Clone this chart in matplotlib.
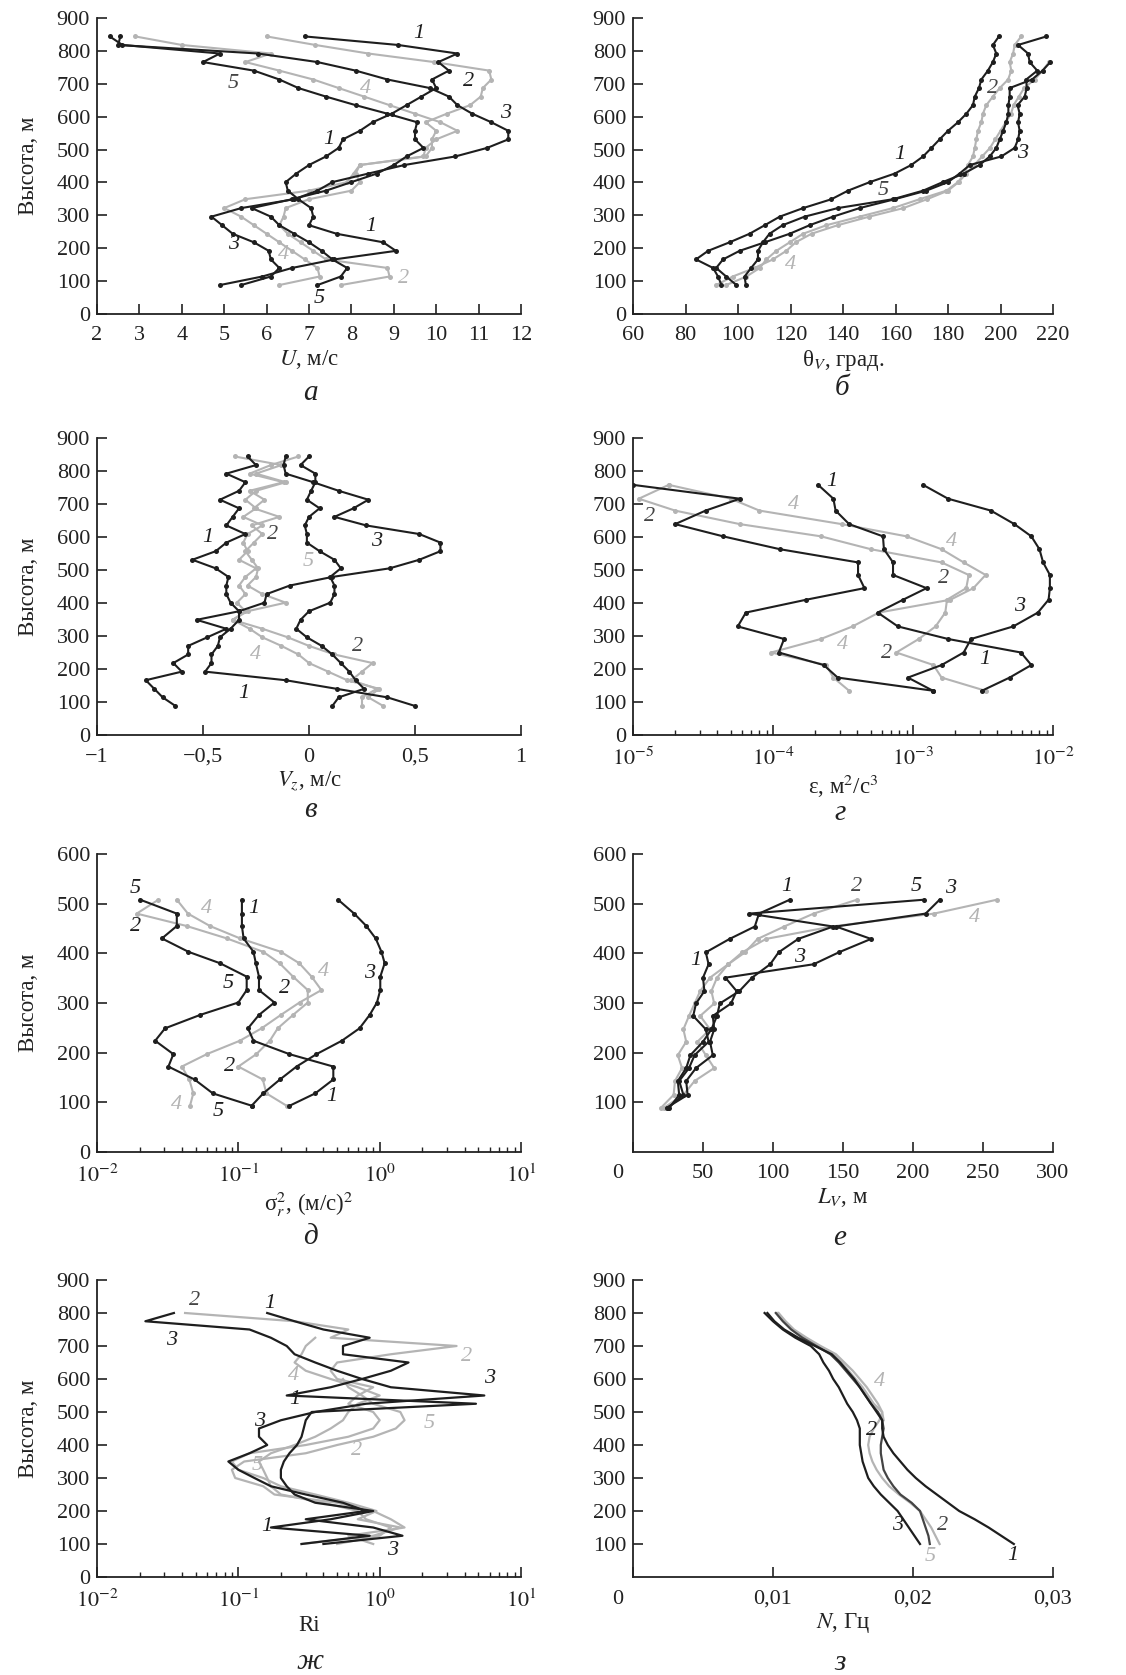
import matplotlib
matplotlib.use('Agg')
import matplotlib.pyplot as plt
import matplotlib.ticker as ticker
import matplotlib.transforms as mtransforms

plt.rcParams['font.family'] = ['Liberation Serif', 'DejaVu Serif']
plt.rcParams['mathtext.fontset'] = 'stix'

BLACK = '#1e1e1e'
GRAY = '#b4b4b4'
DARK = '#444444'

# heights, m
h30 = [88, 114, 140, 166, 192, 218, 244, 270, 296, 322, 349, 375, 401, 427, 453,
       479, 505, 531, 557, 583, 609, 635, 661, 687, 713, 740, 766, 792, 818, 844]
h_g = [134, 174, 212, 250, 291, 329, 371, 410, 445, 485, 523, 563, 602, 639, 680, 716, 758]
h_d = [93, 118, 146, 172, 197, 224, 249, 276, 301, 326, 353, 380, 403, 430, 455, 480, 508]
h_e = [89, 115, 143, 169, 195, 222, 247, 274, 299, 324, 351, 378, 402, 429, 454, 480, 508]
h25 = [100, 125, 150, 175, 200, 225, 250, 275, 300, 325, 350, 375, 400, 425, 450,
       475, 500, 525, 550, 575, 600, 625, 650, 675, 700, 725, 750, 775, 800]

# a: U, m/s
u1 = [4.9, 5.9, 6.6, 7.6, 9.05, 8.75, 7.65, 7.0, 7.1, 7.05, 6.75, 6.5, 6.45, 6.7, 7.0,
      7.4, 7.7, 7.8, 8.2, 8.5, 8.95, 9.3, 9.65, 10.0, 9.9, 10.3, 10.05, 10.5, 9.1, 6.9]
u2 = [7.75, 8.9, 8.85, 7.4, 7.1, 6.8, 6.5, 6.3, 6.4, 6.45, 7.0, 8.0, 8.2, 8.1, 8.2,
      9.75, 9.9, 9.9, 10.0, 9.75, 10.25, 10.8, 11.05, 11.1, 11.3, 11.25, 9.95, 8.4, 7.15, 6.0]
u3 = [5.4, 6.1, 6.3, 6.1, 6.05, 5.7, 5.2, 4.95, 4.7, 5.4, 6.65, 7.2, 7.55, 8.4, 9.25,
      10.45, 11.2, 11.7, 11.7, 11.3, 10.85, 10.5, 10.3, 9.85, 8.85, 8.1, 7.2, 5.8, 2.5, 2.55]
u4 = [6.3, 7.25, 7.2, 6.9, 6.6, 6.3, 6.0, 5.7, 5.4, 5.0, 5.5, 7.0, 7.9, 8.05, 8.2,
      9.7, 9.75, 10.0, 10.5, 10.1, 9.5, 8.9, 8.3, 7.7, 7.1, 6.3, 5.5, 6.1, 4.0, 2.9]
u5 = [7.2, 7.75, 7.9, 7.55, 7.3, 7.0, 6.65, 6.3, 6.1, 5.65, 6.6, 7.4, 8.0, 8.6, 9.0,
      9.3, 9.7, 9.5, 9.5, 9.55, 8.85, 8.1, 7.4, 6.75, 6.3, 5.7, 4.5, 4.9, 2.6, 2.3]

# б: theta_V
t1 = [93.7, 92.4, 90.5, 84.0, 88.6, 96.8, 104.4, 110.2, 115.9, 124.8, 135.6, 141.9, 150.2, 159.7, 166,
      170.5, 173.7, 176.8, 180, 183.8, 187, 189.5, 190.2, 191.8, 192.7, 195.2, 197.1, 198.4, 197.1, 199.4]
t2 = [95.5, 103.2, 108.3, 110.8, 114.6, 119.7, 124.8, 133.7, 146.3, 159, 169.2, 179.4, 183.8, 186.3, 187.6,
      189.5, 190.2, 190.8, 191.4, 192.7, 193.3, 194.6, 197.1, 199.7, 202.9, 204.1, 203.5, 204.8, 205.4, 207.9]
t3 = [99.4, 95.5, 91.7, 94.3, 100.6, 110.2, 119.7, 127.3, 136.2, 146.3, 159.7, 171.7, 180, 184.4, 188.3,
      200.3, 205.4, 206.7, 207.3, 206.7, 207.3, 206.5, 209.2, 210, 209.8, 214, 211.1, 210.5, 206.7, 217.5]
t4 = [91.7, 98, 106.3, 113.3, 118.4, 122, 128, 138, 150, 163, 172, 180, 184, 187, 190,
      193, 196, 198, 200, 202, 204, 205, 207, 209, 213, 216, 218.5]
t5 = [103, 102.5, 105, 107.6, 107.6, 109.5, 112, 117, 125.4, 138, 159, 170.5, 178, 186, 192,
      195.9, 198.4, 199.7, 201, 202.2, 203, 203, 203.5, 203.5, 212, 216, 219]

# в: V_z, m/s
v1 = [0.5, 0.37, 0.13, -0.11, -0.49, -0.46, -0.46, -0.43, -0.42, -0.37, -0.33, -0.33, -0.37, -0.39, -0.39,
      -0.38, -0.44, -0.55, -0.44, -0.39, -0.30, -0.39, -0.36, -0.33, -0.42, -0.33, -0.30, -0.39, -0.25, -0.29]
v2 = [0.25, 0.25, 0.32, 0.2, 0.25, 0.3, 0.12, 0.0, -0.1, -0.22, -0.36, -0.29, -0.11, -0.22, -0.29,
      -0.25, -0.24, -0.27, -0.30, -0.26, -0.22, -0.27, -0.14, -0.26, -0.21, -0.28, -0.12, -0.28, -0.18, -0.05]
v3 = [-0.63, -0.69, -0.73, -0.77, -0.60, -0.64, -0.57, -0.57, -0.48, -0.39, -0.53, -0.33, -0.21, -0.2, -0.09,
      0.11, 0.38, 0.52, 0.62, 0.62, 0.52, 0.27, 0.12, 0.21, 0.28, 0.14, 0.02, -0.11, -0.12, -0.11]
v4 = [0.35, 0.28, 0.33, 0.18, 0.09, 0.0, -0.05, -0.13, -0.22, -0.28, -0.36, -0.30, -0.34, -0.30, -0.33,
      -0.30, -0.25, -0.33, -0.29, -0.31, -0.29, -0.22, -0.31, -0.25, -0.30, -0.25, -0.11, -0.25, -0.13, -0.35]
v5 = [0.11, 0.14, 0.26, 0.22, 0.19, 0.15, 0.11, 0.06, -0.01, -0.06, -0.04, 0.0, 0.10, 0.12, 0.12,
      0.10, 0.15, 0.12, 0.05, -0.01, -0.01, -0.02, 0.0, 0.05, -0.01, 0.01, 0.03, 0.03, -0.04, 0.0]

# г: epsilon, m2/s3
e1 = [3.1e-3, 4.9e-3, 7.0e-3, 5.9e-3, 1.78e-3, 7.8e-4, 5.6e-4, 8.5e-4, 1.25e-3, 7.2e-4, 7.2e-4,
      6.2e-4, 6.1e-4, 3.5e-4, 2.8e-4, 2.7e-4, 2.1e-4]
e2 = [1.4e-3, 2.9e-4, 2.3e-4, 1.1e-4, 1.2e-4, 5.6e-5, 6.4e-5, 1.73e-4, 4.5e-4, 4.05e-4, 4.05e-4,
      1.12e-4, 4.4e-5, 2.0e-5, 3.3e-5, 5.8e-5, 1.0e-5]
e3 = [1.39e-3, 9.2e-4, 1.6e-3, 2.3e-3, 2.6e-3, 5.2e-3, 7.8e-3, 9.3e-3, 9.5e-3, 9.5e-3, 8.5e-3,
      8.0e-3, 7.0e-3, 5.3e-3, 3.6e-3, 1.78e-3, 1.18e-3]
e4 = [3.5e-4, 2.7e-4, 2.4e-4, 9.7e-5, 2.2e-4, 3.7e-4, 5.7e-4, 1.85e-3, 2.7e-3, 3.3e-3, 2.3e-3,
      1.6e-3, 9.0e-4, 3.1e-4, 8.0e-5, 5.0e-5, 1.8e-5]
e5 = [3.3e-3, 1.6e-3, 1.4e-3, 7.6e-4, 1.1e-3, 1.45e-3, 1.7e-3, 1.75e-3, 2.4e-3, 2.5e-3, 1.6e-3,
      5.0e-4, 2.2e-4, 5.8e-5, 2.0e-5, 1.1e-5, 1.8e-5]

# д: sigma_r^2, (m/s)^2
s1 = [0.23, 0.35, 0.47, 0.47, 0.23, 0.128, 0.117, 0.14, 0.18, 0.14, 0.14, 0.133, 0.128, 0.109, 0.106, 0.106, 0.106]
s2 = [0.22, 0.158, 0.149, 0.1, 0.134, 0.167, 0.19, 0.244, 0.31, 0.31, 0.244, 0.196, 0.15, 0.083, 0.0431, 0.0191, 0.0272]
s3 = [0.124, 0.150, 0.197, 0.258, 0.357, 0.54, 0.72, 0.85, 0.957, 1.01, 1.01, 1.085, 1.03, 0.937, 0.805, 0.66, 0.508]
s4 = [0.0455, 0.048, 0.045, 0.0398, 0.0598, 0.1025, 0.146, 0.2, 0.271, 0.387, 0.33, 0.27, 0.2, 0.103, 0.063, 0.044, 0.0367]
s5 = [0.125, 0.066, 0.049, 0.032, 0.0347, 0.0258, 0.0303, 0.0537, 0.1, 0.1146, 0.1146, 0.0743, 0.0444, 0.0288, 0.0367, 0.0367, 0.0202]

# е: L_V, m
l1 = [25, 36, 33, 40, 44, 54, 52, 43, 45, 51, 50, 54, 52, 69, 87, 90, 112]
l2 = [22, 36, 44, 58, 52, 46, 55, 48, 58, 56, 60, 68, 80, 89, 108, 129, 160]
l3 = [24, 39, 38, 45, 57, 55, 58, 57, 70, 74, 66, 129, 147, 170, 145, 209, 219]
l4 = [20, 29, 30, 35, 32, 38, 36, 40, 44, 48, 55, 68, 78, 95, 142, 215, 260]
l5 = [26, 33, 32, 38, 41, 50, 56, 60, 62, 76, 85, 98, 104, 118, 143, 83, 208]

# ж: Ri
r1 = [0.28, 0.85, 0.17, 0.45, 0.9, 0.35, 0.25, 0.22, 0.20, 0.20, 0.21, 0.23, 0.26, 0.28, 0.29,
      0.30, 0.33, 4.8, 0.22, 0.45, 0.75, 1.2, 1.6, 0.55, 0.55, 0.85, 0.4, 0.25, 0.16]
r2 = [0.28, 0.9, 1.4, 0.7, 0.95, 0.6, 0.35, 0.2, 0.15, 0.10, 0.09, 0.12, 0.3, 0.6, 0.9,
      1.0, 0.9, 0.6, 0.7, 0.9, 0.5, 0.45, 0.5, 1.2, 3.5, 0.45, 0.6, 0.25, 0.042]
r3 = [0.4, 1.45, 0.9, 0.3, 0.8, 0.55, 0.3, 0.17, 0.13, 0.10, 0.085, 0.12, 0.16, 0.14, 0.14,
      0.20, 0.35, 0.8, 5.5, 1.2, 0.75, 0.5, 0.35, 0.25, 0.22, 0.17, 0.12, 0.022, 0.035]
r4 = [0.5, 1.0, 1.2, 0.8, 0.7, 0.4, 0.2, 0.17, 0.16, 0.15, 0.14, 0.17, 0.25, 0.35, 0.45,
      0.55, 0.6, 0.7, 1.0, 0.7, 0.45, 0.3, 0.25, 0.28, 0.3, 0.35]
r5 = [0.9, 0.6, 1.5, 1.2, 0.9, 0.5, 0.18, 0.15, 0.095, 0.09, 0.11, 0.3, 0.5, 0.9, 1.3,
      1.5, 1.4, 0.9, 0.75, 0.6, 0.55]

# з: N, Hz
n1 = [0.0272, 0.0263, 0.0254, 0.0244, 0.0233, 0.0225, 0.0217, 0.0209, 0.0202, 0.0196, 0.0191, 0.0186,
      0.0182, 0.0179, 0.0178, 0.0178, 0.0174, 0.0170, 0.0166, 0.0162, 0.0158, 0.0153, 0.0148, 0.0142,
      0.0130, 0.0118, 0.0108, 0.0101, 0.0096]
n2 = [0.0219, 0.0216, 0.0213, 0.0209, 0.0205, 0.0198, 0.0190, 0.0183, 0.0178, 0.0174, 0.0171, 0.0169,
      0.0168, 0.0169, 0.0172, 0.0176, 0.0178, 0.0172, 0.0168, 0.0164, 0.0159, 0.0154, 0.0149, 0.0143,
      0.0133, 0.0122, 0.0114, 0.0108, 0.0103]
n3 = [0.0205, 0.0201, 0.0197, 0.0193, 0.0189, 0.0183, 0.0177, 0.0172, 0.0168, 0.0166, 0.0164, 0.0163,
      0.0162, 0.0162, 0.0162, 0.0160, 0.0157, 0.0153, 0.0150, 0.0147, 0.0143, 0.0140, 0.0136, 0.0133,
      0.0127, 0.0116, 0.0107, 0.0100, 0.0094]
n4 = [0.0179, 0.0178, 0.0175, 0.0171, 0.0167, 0.0162, 0.0157, 0.0151, 0.0145, 0.0134, 0.0124, 0.0115,
      0.0109, 0.0104]
n5 = [0.0212, 0.0211, 0.0209, 0.0207, 0.0205, 0.0199, 0.0191, 0.0186, 0.0182, 0.0179, 0.0178, 0.0177,
      0.0177, 0.0178, 0.0179, 0.0178, 0.0175, 0.0170, 0.0166, 0.0162, 0.0157, 0.0152, 0.0147, 0.0141,
      0.0131, 0.0121, 0.0113, 0.0107, 0.0102]

# curve number labels: (text, x, y, colour)
lab_a = [('1', 9.6, 854, BLACK), ('2', 10.77, 707, BLACK), ('3', 11.63, 611, BLACK), ('4', 8.33, 687, GRAY),
         ('5', 5.22, 702, DARK), ('1', 7.46, 530, BLACK), ('1', 8.45, 266, BLACK), ('3', 5.22, 210, BLACK),
         ('4', 6.4, 180, GRAY), ('2', 9.23, 109, GRAY), ('5', 7.23, 48, BLACK)]
lab_b = [('1', 161.6, 484, BLACK), ('2', 197.1, 687, DARK), ('3', 208.6, 489, BLACK),
         ('5', 155.2, 377, DARK), ('4', 120.0, 152, GRAY)]
lab_v = [('1', -0.476, 597, BLACK), ('2', -0.17, 607, DARK), ('3', 0.32, 586, BLACK), ('5', -0.005, 526, GRAY),
         ('2', 0.23, 268, DARK), ('4', -0.25, 243, GRAY), ('1', -0.31, 126, BLACK)]
lab_g = [('1', 2.61e-4, 769, BLACK), ('4', 1.39e-4, 698, GRAY), ('2', 1.31e-5, 662, DARK),
         ('4', 1.88e-3, 587, GRAY), ('2', 1.64e-3, 475, DARK), ('3', 5.78e-3, 389, BLACK),
         ('4', 3.16e-4, 273, GRAY), ('2', 6.46e-4, 248, DARK), ('1', 3.25e-3, 228, BLACK)]
lab_d = [('5', 0.01866, 531, BLACK), ('4', 0.0597, 491, GRAY), ('1', 0.1277, 491, BLACK),
         ('2', 0.0187, 454, BLACK), ('4', 0.398, 363, GRAY), ('3', 0.85, 360, BLACK),
         ('5', 0.085, 340, BLACK), ('2', 0.213, 330, BLACK), ('2', 0.0873, 172, BLACK),
         ('1', 0.456, 111, BLACK), ('4', 0.0367, 95, GRAY), ('5', 0.0723, 81, BLACK)]
lab_e = [('1', 109.5, 534, BLACK), ('2', 159.5, 534, DARK), ('5', 202, 534, BLACK), ('3', 227, 530, BLACK),
         ('4', 244, 473, GRAY), ('1', 45, 385, BLACK), ('3', 119, 392, BLACK)]
lab_zh = [('2', 0.0494, 839, DARK), ('1', 0.1675, 829, BLACK), ('3', 0.0339, 718, BLACK),
          ('2', 4.09, 667, GRAY), ('4', 0.244, 612, GRAY), ('3', 5.97, 602, BLACK),
          ('1', 0.25, 538, BLACK), ('3', 0.142, 470, BLACK), ('5', 2.25, 465, GRAY),
          ('2', 0.684, 384, GRAY), ('5', 0.135, 339, GRAY), ('1', 0.16, 152, BLACK),
          ('3', 1.24, 81, BLACK)]
lab_z = [('4', 0.01762, 592, GRAY), ('2', 0.01702, 445, BLACK), ('3', 0.01893, 157, BLACK),
         ('2', 0.02214, 157, DARK), ('5', 0.0212, 61, GRAY), ('1', 0.02714, 66, BLACK)]

W, H = 1126, 1675
fig = plt.figure(figsize=(W / 100, H / 100), dpi=100)

FS_TICK = 16
FS_LAB = 16.5


def axes_px(x0, y0, x1, y1):
    return fig.add_axes([x0 / W, 1 - y1 / H, (x1 - x0) / W, (y1 - y0) / H])


def style(ax, ylabel):
    for s in ['top', 'right']:
        ax.spines[s].set_visible(False)
    for s in ['left', 'bottom']:
        ax.spines[s].set_linewidth(1.3)
        ax.spines[s].set_color('#222222')
    ax.tick_params(which='major', direction='in', length=7, width=1.2, labelsize=FS_TICK,
                   colors='#222222')
    ax.tick_params(axis='x', which='major', pad=9)
    ax.tick_params(axis='y', which='major', pad=5)
    ax.tick_params(which='minor', direction='in', length=3.5, width=1.0, colors='#222222')
    if ylabel:
        ax.set_ylabel('Высота, м', fontsize=FS_LAB, labelpad=13, color='#222222')


def curve(ax, x, y, col, marker=True):
    z = 3 if col == BLACK else 2
    if marker:
        ax.plot(x, y, color=col, lw=1.5, marker='o', ms=3.6, mew=0, zorder=z)
    else:
        ax.plot(x, y, color=col, lw=1.6, zorder=z)


def labels(ax, items):
    for t, x, y, c in items:
        ax.text(x, y, t, color=c, fontsize=16, style='italic', ha='center', va='center', zorder=4)


def letter(xpx, ypx, t):
    fig.text(xpx / W, 1 - ypx / H, t, fontsize=21, style='italic', ha='center', va='center',
             color='#222222')


def log_x(ax, lo, hi):
    ax.set_xscale('log')
    ax.set_xlim(lo, hi)
    ax.xaxis.set_minor_locator(ticker.LogLocator(base=10, subs=range(2, 10)))
    ax.xaxis.set_minor_formatter(ticker.NullFormatter())


def shift_first_xlabel(ax, dx):
    lab = ax.get_xticklabels()[0]
    lab.set_transform(lab.get_transform() + mtransforms.ScaledTranslation(dx / 100, 0, fig.dpi_scale_trans))


def xlab(ax, text):
    ax.set_xlabel(text, fontsize=FS_LAB, labelpad=2, color='#222222')


ticks900 = [0, 100, 200, 300, 400, 500, 600, 700, 800, 900]

# а
ax = axes_px(97, 18, 521, 314)
style(ax, True)
for x, c in [(u2, GRAY), (u4, GRAY), (u1, BLACK), (u3, BLACK), (u5, BLACK)]:
    curve(ax, x, h30, c)
ax.set_xlim(2, 12)
ax.set_ylim(0, 900)
ax.set_xticks(range(2, 13))
ax.set_yticks(ticks900)
xlab(ax, '$U$, м/с')
labels(ax, lab_a)
letter(310, 393, 'а')

# б
ax = axes_px(633, 18, 1053, 314)
style(ax, False)
curve(ax, t2, h30, GRAY)
curve(ax, t4, h30[:len(t4)], GRAY)
curve(ax, t1, h30, BLACK)
curve(ax, t3, h30, BLACK)
curve(ax, t5, h30[:len(t5)], BLACK)
ax.set_xlim(60, 220)
ax.set_ylim(0, 900)
ax.set_xticks(range(60, 221, 20))
ax.set_yticks(ticks900)
xlab(ax, 'θ$_V$, град.')
labels(ax, lab_b)
letter(842, 388, 'б')

# в
ax = axes_px(97, 438, 521, 735)
style(ax, True)
for x, c in [(v2, GRAY), (v4, GRAY), (v1, BLACK), (v3, BLACK), (v5, BLACK)]:
    curve(ax, x, h30, c)
ax.set_xlim(-1, 1)
ax.set_ylim(0, 900)
ax.set_xticks([-1, -0.5, 0, 0.5, 1], ['−1', '−0,5', '0', '0,5', '1'])
ax.set_yticks(ticks900)
xlab(ax, '$V_z$, м/с')
labels(ax, lab_v)
letter(310, 810, 'в')

# г
ax = axes_px(633, 438, 1053, 735)
style(ax, False)
for x, c in [(e5, GRAY), (e4, GRAY), (e1, BLACK), (e2, BLACK), (e3, BLACK)]:
    curve(ax, x, h_g, c)
log_x(ax, 1e-5, 1e-2)
ax.set_ylim(0, 900)
ax.set_xticks([1e-5, 1e-4, 1e-3, 1e-2], ['$10^{-5}$', '$10^{-4}$', '$10^{-3}$', '$10^{-2}$'])
ax.set_yticks(ticks900)
xlab(ax, 'ε, м$^2$/с$^3$')
labels(ax, lab_g)
letter(840, 813, 'г')

# д
ax = axes_px(97, 854, 521, 1152)
style(ax, True)
for x, c in [(s2, GRAY), (s4, GRAY), (s1, BLACK), (s3, BLACK), (s5, BLACK)]:
    curve(ax, x, h_d, c)
log_x(ax, 1e-2, 10)
ax.set_ylim(0, 600)
ax.set_xticks([1e-2, 1e-1, 1, 10], ['$10^{-2}$', '$10^{-1}$', '$10^{0}$', '$10^{1}$'])
ax.set_yticks([0, 100, 200, 300, 400, 500, 600])
xlab(ax, 'σ$_r^2$, (м/с)$^2$')
labels(ax, lab_d)
letter(310, 1237, 'д')

# е
ax = axes_px(633, 854, 1053, 1152)
style(ax, False)
for x, c in [(l2, GRAY), (l4, GRAY), (l1, BLACK), (l3, BLACK), (l5, BLACK)]:
    curve(ax, x, h_e, c)
ax.set_xlim(0, 300)
ax.set_ylim(0, 600)
ax.set_xticks([0, 50, 100, 150, 200, 250, 300])
ax.set_yticks([100, 200, 300, 400, 500, 600])
xlab(ax, '$L_V$, м')
shift_first_xlabel(ax, -15)
labels(ax, lab_e)
letter(840, 1238, 'е')

# ж
ax = axes_px(97, 1280, 521, 1577)
style(ax, True)
curve(ax, r2, h25, GRAY, False)
curve(ax, r4, h25[:len(r4)], GRAY, False)
curve(ax, r5, h25[:len(r5)], GRAY, False)
curve(ax, r1, h25, BLACK, False)
curve(ax, r3, h25, BLACK, False)
log_x(ax, 1e-2, 10)
ax.set_ylim(0, 900)
ax.set_xticks([1e-2, 1e-1, 1, 10], ['$10^{-2}$', '$10^{-1}$', '$10^{0}$', '$10^{1}$'])
ax.set_yticks(ticks900)
xlab(ax, 'Ri')
labels(ax, lab_zh)
letter(310, 1662, 'ж')

# з
ax = axes_px(633, 1280, 1053, 1577)
style(ax, False)
curve(ax, n2, h25, GRAY, False)
curve(ax, n4, h25[15:], GRAY, False)
curve(ax, n5, h25, DARK, False)
curve(ax, n1, h25, BLACK, False)
curve(ax, n3, h25, BLACK, False)
ax.set_xlim(0, 0.03)
ax.set_ylim(0, 900)
ax.set_xticks([0, 0.01, 0.02, 0.03], ['0', '0,01', '0,02', '0,03'])
ax.set_yticks(ticks900[1:])
xlab(ax, '$N$, Гц')
shift_first_xlabel(ax, -15)
labels(ax, lab_z)
letter(840, 1663, 'з')

fig.savefig('out.png', dpi=100)
